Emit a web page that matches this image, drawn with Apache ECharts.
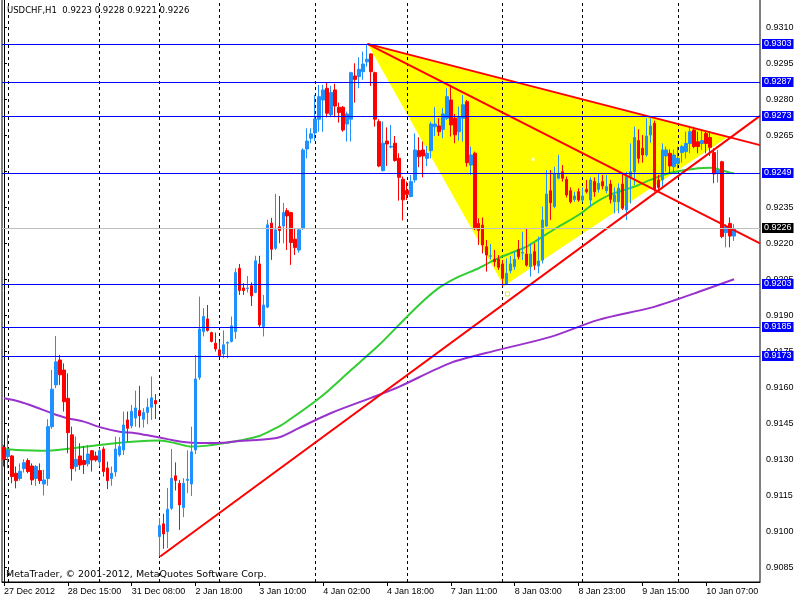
<!DOCTYPE html>
<html><head><meta charset="utf-8">
<script src="https://cdn.jsdelivr.net/npm/echarts@6/dist/echarts.min.js"></script>
<style>html,body{margin:0;padding:0;background:#fff}#c{width:800px;height:600px}</style>
</head><body><div id="c"></div>
<script>
// ---- data ----
const xLabels = ['27 Dec 2012','28 Dec 15:00','31 Dec 08:00','2 Jan 18:00','3 Jan 10:00','4 Jan 02:00','4 Jan 18:00','7 Jan 11:00','8 Jan 03:00','8 Jan 23:00','9 Jan 15:00','10 Jan 07:00'];
const dayStarts = [1,24,39,54,78,101,125,145,169];
const yTicks = [0.9085,0.9100,0.9115,0.9130,0.9145,0.9160,0.9175,0.9190,0.9205,0.9220,0.9235,0.9250,0.9265,0.9280,0.9295,0.9310];

const openP = [
0.91350,0.91311,0.91314,0.91242,0.91220,0.91261,0.91295,0.91272,0.91220,0.91253,
0.91197,0.91220,0.91436,0.91610,0.91714,0.91672,0.91554,0.91402,0.91270,0.91314,
0.91295,0.91281,0.91336,0.91314,0.91289,0.91343,0.91264,0.91220,0.91247,0.91318,
0.91339,0.91464,0.91439,0.91472,0.91503,0.91467,0.91495,0.91517,0.91545,0.90978,
0.91031,0.90999,0.91096,0.91231,0.91200,0.91099,0.91212,0.91197,0.91339,0.91641,
0.91832,0.91885,0.91828,0.91784,0.91756,0.91739,0.91784,0.91791,0.91832,0.92096,
0.92014,0.92012,0.92023,0.91995,0.92114,0.91853,0.91934,0.92284,0.92179,0.92269,
0.92272,0.92336,0.92328,0.92217,0.92172,0.92263,0.92593,0.92638,0.92660,0.92717,
0.92797,0.92846,0.92735,0.92839,0.92767,0.92767,0.92697,0.92717,0.92897,0.92895,
0.92915,0.92956,0.92989,0.92911,0.92707,0.92503,0.92626,0.92601,0.92617,0.92554,
0.92467,0.92420,0.92395,0.92464,0.92586,0.92589,0.92554,0.92586,0.92686,0.92689,
0.92675,0.92721,0.92797,0.92721,0.92665,0.92721,0.92790,0.92526,0.92575,0.92283,
0.92276,0.92186,0.92146,0.92133,0.92133,0.92114,0.92030,0.92086,0.92103,0.92175,
0.92159,0.92155,0.92103,0.92165,0.92105,0.92130,0.92272,0.92419,0.92353,0.92471,
0.92498,0.92466,0.92419,0.92383,0.92415,0.92380,0.92425,0.92380,0.92457,0.92425,
0.92457,0.92419,0.92447,0.92373,0.92373,0.92447,0.92339,0.92478,0.92498,0.92628,
0.92596,0.92568,0.92651,0.92700,0.92464,0.92464,0.92564,0.92575,0.92519,0.92533,
0.92578,0.92582,0.92616,0.92672,0.92623,0.92616,0.92658,0.92641,0.92578,0.92491,
0.92540,0.92244,0.92283,0.92230];

const closeP = [
0.91300,0.91339,0.91228,0.91211,0.91250,0.91286,0.91249,0.91214,0.91270,0.91211,
0.91214,0.91436,0.91592,0.91706,0.91652,0.91540,0.91411,0.91261,0.91300,0.91276,
0.91278,0.91322,0.91297,0.91297,0.91336,0.91249,0.91211,0.91242,0.91343,0.91353,
0.91443,0.91429,0.91500,0.91514,0.91481,0.91495,0.91517,0.91556,0.91531,0.91024,
0.90989,0.91092,0.91221,0.91212,0.91110,0.91200,0.91217,0.91331,0.91635,0.91843,
0.91895,0.91837,0.91791,0.91760,0.91732,0.91777,0.91787,0.91856,0.92078,0.92003,
0.92003,0.92014,0.91981,0.92127,0.91860,0.91943,0.92277,0.92175,0.92256,0.92253,
0.92328,0.92314,0.92203,0.92182,0.92256,0.92589,0.92626,0.92656,0.92718,0.92811,
0.92839,0.92742,0.92828,0.92772,0.92745,0.92672,0.92739,0.92911,0.92883,0.92925,
0.92947,0.92967,0.92915,0.92717,0.92522,0.92617,0.92614,0.92604,0.92545,0.92475,
0.92381,0.92404,0.92457,0.92589,0.92561,0.92564,0.92575,0.92697,0.92697,0.92665,
0.92739,0.92811,0.92693,0.92652,0.92725,0.92777,0.92536,0.92568,0.92265,0.92253,
0.92193,0.92151,0.92148,0.92123,0.92100,0.92054,0.92075,0.92114,0.92133,0.92144,
0.92162,0.92109,0.92155,0.92109,0.92126,0.92297,0.92405,0.92369,0.92489,0.92489,
0.92471,0.92401,0.92373,0.92397,0.92380,0.92397,0.92415,0.92464,0.92415,0.92450,
0.92439,0.92436,0.92383,0.92401,0.92429,0.92346,0.92478,0.92498,0.92641,0.92554,
0.92568,0.92647,0.92689,0.92425,0.92433,0.92589,0.92589,0.92522,0.92568,0.92554,
0.92603,0.92616,0.92665,0.92603,0.92603,0.92628,0.92616,0.92600,0.92489,0.92505,
0.92228,0.92269,0.92230,0.92260];

const lowP = [
0.91270,0.91263,0.91200,0.91179,0.91211,0.91245,0.91242,0.91193,0.91189,0.91197,
0.91149,0.91190,0.91427,0.91596,0.91610,0.91499,0.91325,0.91211,0.91249,0.91256,
0.91239,0.91270,0.91249,0.91290,0.91270,0.91228,0.91176,0.91190,0.91228,0.91311,
0.91318,0.91374,0.91429,0.91436,0.91432,0.91432,0.91446,0.91464,0.91468,0.90895,
0.90927,0.90930,0.91089,0.91170,0.91006,0.91059,0.91159,0.91147,0.91322,0.91631,
0.91812,0.91832,0.91787,0.91749,0.91728,0.91721,0.91721,0.91787,0.91802,0.91985,
0.91985,0.91995,0.91939,0.91992,0.91850,0.91812,0.91930,0.92131,0.92172,0.92200,
0.92200,0.92172,0.92110,0.92151,0.92161,0.92256,0.92554,0.92617,0.92626,0.92665,
0.92665,0.92725,0.92725,0.92725,0.92703,0.92665,0.92624,0.92624,0.92786,0.92846,
0.92881,0.92936,0.92856,0.92686,0.92517,0.92499,0.92522,0.92596,0.92540,0.92378,
0.92295,0.92381,0.92392,0.92453,0.92517,0.92475,0.92522,0.92554,0.92647,0.92647,
0.92638,0.92714,0.92645,0.92617,0.92628,0.92624,0.92519,0.92485,0.92255,0.92193,
0.92158,0.92082,0.92133,0.92103,0.92089,0.92020,0.92026,0.92075,0.92089,0.92133,
0.92130,0.92103,0.92061,0.92089,0.92075,0.92116,0.92269,0.92297,0.92346,0.92466,
0.92457,0.92391,0.92366,0.92373,0.92373,0.92373,0.92408,0.92353,0.92394,0.92411,
0.92425,0.92408,0.92366,0.92325,0.92325,0.92339,0.92297,0.92366,0.92443,0.92533,
0.92536,0.92561,0.92619,0.92415,0.92415,0.92436,0.92498,0.92489,0.92491,0.92512,
0.92536,0.92554,0.92575,0.92596,0.92575,0.92589,0.92575,0.92564,0.92450,0.92453,
0.92221,0.92183,0.92183,0.92210];

const highP = [
0.91360,0.91402,0.91318,0.91270,0.91283,0.91300,0.91304,0.91283,0.91276,0.91283,
0.91256,0.91467,0.91672,0.91814,0.91735,0.91700,0.91658,0.91436,0.91395,0.91367,
0.91353,0.91360,0.91339,0.91332,0.91346,0.91353,0.91290,0.91270,0.91395,0.91392,
0.91499,0.91499,0.91526,0.91586,0.91606,0.91513,0.91554,0.91645,0.91572,0.91055,
0.91073,0.91180,0.91343,0.91287,0.91214,0.91221,0.91337,0.91436,0.91735,0.91978,
0.91930,0.91943,0.91832,0.91828,0.91791,0.91837,0.91791,0.91895,0.92096,0.92114,
0.92034,0.92064,0.92037,0.92148,0.92148,0.91985,0.92298,0.92306,0.92406,0.92397,
0.92368,0.92346,0.92331,0.92259,0.92263,0.92596,0.92679,0.92679,0.92818,0.92860,
0.92860,0.92871,0.92856,0.92865,0.92786,0.92772,0.92749,0.92915,0.92950,0.92975,
0.92999,0.93030,0.92992,0.92915,0.92717,0.92707,0.92683,0.92693,0.92647,0.92575,
0.92478,0.92457,0.92485,0.92658,0.92642,0.92624,0.92606,0.92707,0.92767,0.92721,
0.92763,0.92846,0.92860,0.92739,0.92770,0.92818,0.92797,0.92603,0.92582,0.92304,
0.92308,0.92214,0.92197,0.92172,0.92151,0.92130,0.92137,0.92147,0.92165,0.92214,
0.92248,0.92262,0.92200,0.92200,0.92228,0.92353,0.92505,0.92505,0.92519,0.92568,
0.92526,0.92478,0.92433,0.92415,0.92429,0.92433,0.92464,0.92475,0.92475,0.92491,
0.92485,0.92485,0.92464,0.92433,0.92450,0.92491,0.92498,0.92616,0.92686,0.92675,
0.92651,0.92721,0.92721,0.92711,0.92485,0.92616,0.92603,0.92591,0.92591,0.92603,
0.92610,0.92665,0.92689,0.92686,0.92665,0.92672,0.92665,0.92665,0.92596,0.92589,
0.92544,0.92280,0.92308,0.92280];

// moving averages, sampled [bar index, price]
const maGreen = [[0,0.91342],[10,0.91336],[16,0.91344],[24,0.91360],[33,0.91374],[39,0.91378],[43,0.91367],[47,0.91353],[51,0.91357],[55,0.91367],[59,0.91378],[64,0.91397],[68,0.91429],[70,0.91447],[79,0.91554],[87,0.91672],[94,0.91776],[99,0.91860],[104,0.91943],[109,0.92014],[114,0.92061],[119,0.92096],[123,0.92131],[127,0.92159],[131,0.92186],[135,0.92228],[139,0.92269],[144,0.92318],[148,0.92367],[152,0.92403],[158,0.92436],[162,0.92464],[166,0.92489],[170,0.92503],[174,0.92513],[177,0.92515],[179,0.92509],[182,0.92494],[183,0.92492]];
const maPurple = [[0,0.91554],[4,0.91540],[8,0.91517],[12,0.91492],[16,0.91471],[20,0.91457],[24,0.91434],[29,0.91415],[33,0.91409],[37,0.91397],[41,0.91384],[45,0.91372],[49,0.91368],[55,0.91369],[59,0.91376],[64,0.91381],[69,0.91392],[74,0.91431],[82,0.91493],[92,0.91556],[99,0.91602],[112,0.91702],[124,0.91756],[137,0.91810],[149,0.91881],[162,0.91931],[169,0.91968],[174,0.91997],[183,0.92050]];

// drawn objects
const trendUp = [[39.15,0.90895],[189.5,0.92731]];
const trendUpper = [[91.1,0.93031],[189.5,0.92609]];
const trendMid = [[91.1,0.93031],[189.5,0.92200]];
const triangle = [[91.1,0.93031],[125.3,0.92022],[181.5,0.92644]];
const levels = [0.9303,0.9287,0.9273,0.9249,0.9203,0.9185,0.9173];
const bidPrice = 0.9226;
const whiteDots = [[132.6,0.92550]];
const anchorDots = [[126.2,0.91989]];

// ---- chart ----
const N = 190;
const cats = [];
for (let i = 0; i < N; i++) cats.push(String(i));
const ohlc = openP.map((o, i) => [o, closeP[i], lowP[i], highP[i]]);
const FONT = 'Liberation Sans';

// horizontal price lines with their price boxes on the axis (crisp 1px lines)
function levelSeries(values, lineColor, boxColor) {
  return {
    type: 'custom', xAxisIndex: 1, yAxisIndex: 0, z: 6, silent: true,
    data: values.map(v => [0, v]),
    encode: {x: 0, y: 1},
    renderItem: (params, api) => {
      const v = api.value(1);
      const p0 = api.coord([-0.5, v]);
      const p1 = api.coord([189.5, v]);
      const y = Math.round(p0[1] - 0.5) + 0.5;
      return {
        type: 'group',
        children: [
          {type: 'line', shape: {x1: p0[0], y1: y, x2: p1[0], y2: y}, style: {stroke: lineColor, lineWidth: 1}},
          {type: 'text', x: Math.round(p1[0]) + 2, y: Math.round(y - 0.5),
            style: {text: v.toFixed(4), fill: '#ffffff', backgroundColor: boxColor, padding: [1, 2, 0, 2],
              font: '9px "Liberation Sans"', verticalAlign: 'middle', align: 'left'}}
        ]
      };
    }
  };
}

const series = [
  {
    type: 'custom', xAxisIndex: 1, yAxisIndex: 0, z: 1, silent: true,
    data: [[triangle[0][0], triangle[0][1]]],
    renderItem: (params, api) => ({
      type: 'polygon',
      shape: {points: triangle.map(p => api.coord(p))},
      style: {fill: '#ffff00', stroke: null}
    })
  },
  {
    type: 'line', xAxisIndex: 1, z: 3, data: maGreen, smooth: 0.3, symbol: 'none',
    lineStyle: {color: '#32cd32', width: 2}
  },
  {
    type: 'line', xAxisIndex: 1, z: 3, data: maPurple, smooth: 0.3, symbol: 'none',
    lineStyle: {color: '#9932cc', width: 2}
  },
  {
    type: 'candlestick', xAxisIndex: 0, z: 4, data: ohlc, barWidth: 3,
    itemStyle: {color: '#1e90ff', color0: '#ff0000', borderColor: '#1e90ff', borderColor0: '#ff0000', borderWidth: 1},
    markLine: {
      silent: true, z: 2, symbol: ['none', 'none'], precision: 0,
      label: {show: false},
      lineStyle: {color: '#000', type: [3, 3], width: 1},
      data: dayStarts.map(d => ({xAxis: d}))
    }
  },
  {
    type: 'line', xAxisIndex: 1, z: 5, data: trendUp, symbol: 'none',
    lineStyle: {color: '#ff0000', width: 2}
  },
  {
    type: 'line', xAxisIndex: 1, z: 5, data: trendUpper, symbol: 'none',
    lineStyle: {color: '#ff0000', width: 2}
  },
  {
    type: 'line', xAxisIndex: 1, z: 5, data: trendMid, symbol: 'none',
    lineStyle: {color: '#ff0000', width: 2}
  },
  {
    type: 'scatter', xAxisIndex: 1, z: 5, data: whiteDots, symbol: 'rect', symbolSize: 3,
    itemStyle: {color: '#ffffff'}
  },
  {
    type: 'scatter', xAxisIndex: 1, z: 5, data: anchorDots, symbol: 'rect', symbolSize: 4,
    itemStyle: {color: '#ffffff', borderColor: '#e0e000', borderWidth: 1}
  },
  levelSeries(levels, '#0000ff', '#0000ff'),
  levelSeries([bidPrice], '#c0c0c0', '#000000')
];

const chart = echarts.init(document.getElementById('c'), null, {renderer: 'canvas'});
chart.setOption({
  animation: false,
  backgroundColor: '#ffffff',
  grid: {left: 2, right: 40, top: -1, bottom: 18, show: true, borderColor: '#000', borderWidth: 1, backgroundColor: '#fff', containLabel: false, outerBoundsMode: 'none'},
  xAxis: [{
    type: 'category', data: cats, boundaryGap: true,
    axisLine: {show: true, lineStyle: {color: '#000', width: 1}},
    axisTick: {show: true, alignWithLabel: true, interval: 15, length: 4, lineStyle: {color: '#000'}},
    axisLabel: {show: true, interval: 15, align: 'left', margin: 5, fontSize: 9, fontFamily: FONT, color: '#000',
      formatter: (v, idx) => xLabels[Math.round(idx / 16)] || ''},
    splitLine: {show: false}
  }, {
    type: 'value', min: -0.5, max: 189.5, show: false, splitLine: {show: false}
  }],
  yAxis: [{
    type: 'value', position: 'right', min: 0.9078875, max: 0.9321792, scale: true,
    axisLine: {show: true, lineStyle: {color: '#000', width: 1}},
    axisTick: {show: true, length: 3, customValues: yTicks, lineStyle: {color: '#000'}},
    axisLabel: {show: true, customValues: yTicks, margin: 6, fontSize: 9, fontFamily: FONT, color: '#000',
      formatter: v => Number(v).toFixed(4)},
    splitLine: {show: false}
  }],
  graphic: [
    {type: 'text', x: 7, y: 11, z: 100, style: {text: 'USDCHF,H1  0.9223 0.9228 0.9221 0.9226', font: '8.5px "DejaVu Sans"', fill: '#000', verticalAlign: 'middle'}},
    {type: 'text', x: 6, y: 575, z: 100, style: {text: 'MetaTrader, \u00a9 2001-2012, MetaQuotes Software Corp.', font: '9.5px "DejaVu Sans"', fill: '#000', verticalAlign: 'middle'}}
  ],
  series: series
});
</script>
</body></html>
